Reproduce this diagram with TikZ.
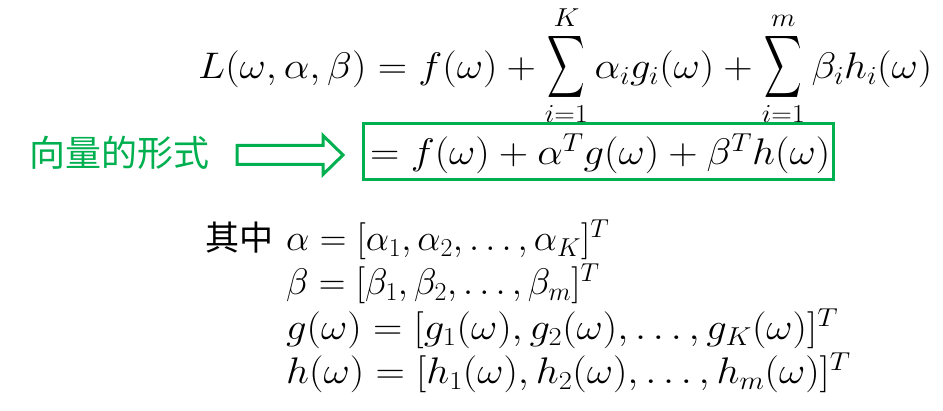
\RequirePackage{fix-cm}
\documentclass[tikz,border=0pt]{standalone}
\usepackage{fontspec}
\usepackage{amsmath}
\newfontfamily\cjkfont{Noto Sans CJK SC}
\definecolor{officegreen}{HTML}{00B050}
\newcommand{\tallsum}{\mathop{\raisebox{3pt}{$\vcenter{\hbox{\scalebox{0.95}[1.75]{$\displaystyle\sum$}}}$}}\limits}
\newcommand{\wideline}[1]{\scalebox{1.1}[1]{$#1$}}
\begin{document}
\begin{tikzpicture}[x=1pt,y=-1pt,
  mathtxt/.style={anchor=base west,inner sep=0pt,font=\fontsize{37}{44}\selectfont},
  cjktxt/.style={anchor=center,inner sep=0pt,font=\fontsize{36}{44}\selectfont\cjkfont},
  frame/.style={draw=officegreen,line width=3pt,fill=white,inner sep=0pt},
  blockarrow/.style={draw=officegreen,line width=3pt,fill=white,line join=miter}]
\useasboundingbox (0,0) rectangle (943,411);
\fill[white] (0,0) rectangle (943,411);
% line 1
\node[mathtxt] (lag) at (198,79) {\wideline{\displaystyle L(\omega,\alpha,\beta)=f(\omega)+\tallsum_{i=1}^{K}\alpha_i g_i(\omega)+\tallsum_{i=1}^{m}\beta_i h_i(\omega)}};
% frame and vector form
\node[frame,minimum width=470pt,minimum height=56pt] (box) at (598,152) {};
\node[mathtxt] (vec) at (370,165) {\wideline{=f(\omega)+\alpha^{T}g(\omega)+\beta^{T}h(\omega)}};
% label and arrow
\node[cjktxt,text=officegreen] (lbl) at (120,153) {向量的形式};
\coordinate (arrtail) at (237,154.5);
\draw[blockarrow] (arrtail) ++(0,-9) -- ++(86,0) -- ++(0,-10) -- ++(20,19.5) -- ++(-20,19.5) -- ++(0,-10) -- ++(-86,0) -- cycle;
% definitions
\node[cjktxt,font=\fontsize{34}{44}\selectfont\cjkfont] (qz) at (239,238) {其中};
\node[mathtxt] (da) at (286,251) {$\alpha=[\alpha_1,\alpha_2,\ldots,\alpha_K]^{T}$};
\node[mathtxt] (db) at (286,295) {$\beta=[\beta_1,\beta_2,\ldots,\beta_m]^{T}$};
\node[mathtxt] (dg) at (286,340) {\wideline{g(\omega)=[g_1(\omega),g_2(\omega),\ldots,g_K(\omega)]^{T}}};
\node[mathtxt] (dh) at (286,384) {\wideline{h(\omega)=[h_1(\omega),h_2(\omega),\ldots,h_m(\omega)]^{T}}};
\end{tikzpicture}
\end{document}
